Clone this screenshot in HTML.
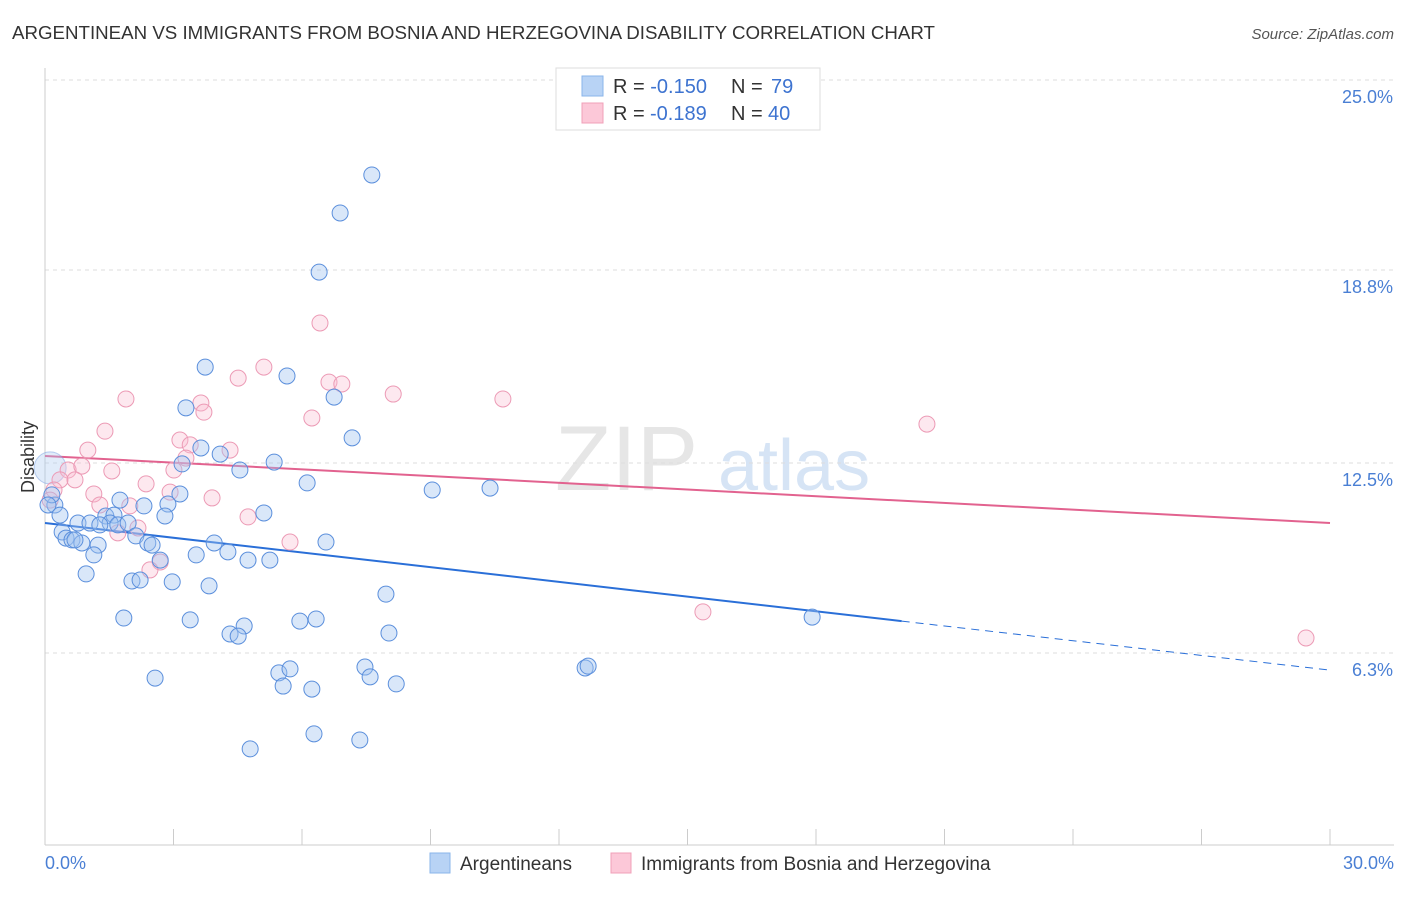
<!DOCTYPE html>
<html><head><meta charset="utf-8"><style>
body{margin:0;background:#fff;font-family:"Liberation Sans",sans-serif}
svg text{font-family:"Liberation Sans",sans-serif}
</style></head><body>
<svg id="chart" width="1406" height="892" viewBox="0 0 1406 892" xmlns="http://www.w3.org/2000/svg">
<text x="12" y="39" font-size="18.5" fill="#333" textLength="923" lengthAdjust="spacingAndGlyphs">ARGENTINEAN VS IMMIGRANTS FROM BOSNIA AND HERZEGOVINA DISABILITY CORRELATION CHART</text>
<text x="1394" y="39" font-size="15" fill="#555" text-anchor="end" font-style="italic">Source: ZipAtlas.com</text>
<text x="555" y="490" font-size="92" fill="#e6e6e6" font-family="Liberation Serif">ZIP</text>
<text x="718" y="490" font-size="72" fill="#d6e4f5">atlas</text>
<g id="grid"></g>
<g id="axes"></g>
<g id="trends"></g>
<g id="points"></g>
<text transform="translate(34,457) rotate(-90)" font-size="18" fill="#333" text-anchor="middle">Disability</text>
<text x="45" y="869" font-size="18" fill="#4a7fd4">0.0%</text>
<text x="1394" y="869" font-size="18" fill="#4a7fd4" text-anchor="end">30.0%</text>
<g>
<rect x="556" y="68" width="264" height="62" fill="#fff" stroke="#ddd"/>
<rect x="582" y="76" width="21" height="20" fill="#b8d3f5" stroke="#8ab4ea"/>
<rect x="582" y="103" width="21" height="20" fill="#fcc8d8" stroke="#f0a0b8"/>
<text x="613" y="93" font-size="20" fill="#333">R = <tspan fill="#3d73d0">-0.150</tspan><tspan x="731">N = </tspan><tspan fill="#3d73d0" x="771">79</tspan></text>
<text x="613" y="120" font-size="20" fill="#333">R = <tspan fill="#3d73d0" x="650">-0.189</tspan><tspan x="731">N = </tspan><tspan fill="#3d73d0" x="768">40</tspan></text>
</g>
<g>
<rect x="430" y="853" width="20" height="20" fill="#b8d3f5" stroke="#8ab4ea"/>
<text x="460" y="870" font-size="19" fill="#333">Argentineans</text>
<rect x="611" y="853" width="20" height="20" fill="#fcc8d8" stroke="#f0a0b8"/>
<text x="641" y="870" font-size="19" fill="#333">Immigrants from Bosnia and Herzegovina</text>
</g>
</svg>
<script>
const yTicks=[25.0,18.8,12.5,6.3];
const yTickLabels=["25.0%","18.8%","12.5%","6.3%"];
const xTicks=[0,3,6,9,12,15,18,21,24,27,30];
const blueX=[7.63,6.89,6.40,3.74,5.65,6.75,3.29,7.17,3.64,4.09,3.20,4.55,5.35,6.12,9.04,10.39,3.15,1.75,2.31,2.87,0.23,0.35,1.42,1.61,2.80,5.11,0.77,1.05,1.52,1.70,1.94,0.40,0.49,0.63,0.86,1.24,2.12,2.40,2.50,3.95,6.56,1.14,3.53,4.27,4.74,5.25,0.96,2.03,2.22,2.97,3.83,7.96,1.84,3.39,4.65,5.95,6.33,4.32,4.51,8.03,17.91,5.46,5.72,7.47,7.59,12.61,12.68,2.57,5.56,6.23,8.20,6.28,7.35,4.79,0.16,0.07,0.70,1.28,2.69];
const blueY=[21.90,20.66,18.73,15.63,15.34,14.65,14.30,13.32,12.99,12.79,12.47,12.27,12.53,11.85,11.62,11.68,11.49,11.29,11.10,11.16,11.13,10.80,10.77,10.80,10.77,10.87,10.54,10.54,10.54,10.48,10.54,10.25,10.05,9.99,9.89,9.82,10.12,9.89,9.82,9.89,9.92,9.50,9.50,9.60,9.33,9.33,8.88,8.65,8.68,8.62,8.49,8.22,7.44,7.38,7.18,7.34,7.41,6.92,6.85,6.95,7.47,5.65,5.78,5.84,5.52,5.81,5.87,5.48,5.22,5.12,5.29,3.66,3.46,3.17,11.46,11.13,9.99,10.48,9.33];
const pinkX=[6.42,5.11,4.51,6.63,6.93,8.13,1.89,10.69,3.64,3.71,6.23,20.59,1.40,3.15,3.39,1.00,4.32,3.29,0.54,0.86,1.56,3.01,0.35,0.70,2.36,1.14,2.92,3.90,0.21,0.12,1.28,1.98,4.74,5.72,1.70,2.17,2.69,2.45,15.36,29.44];
const pinkY=[17.07,15.63,15.27,15.14,15.08,14.75,14.59,14.59,14.46,14.16,13.97,13.77,13.54,13.25,13.09,12.92,12.92,12.66,12.27,12.40,12.24,12.27,11.95,11.95,11.82,11.49,11.55,11.36,11.62,11.29,11.13,11.10,10.74,9.92,10.22,10.38,9.27,9.01,7.64,6.79];
const blueTrend=[10.54,5.74]; const blueSolidEnd=20.0;
const pinkTrend=[12.73,10.54];
const X0=45,X1=1330,Y25=80,PX_PER=30.64;
const xs=v=>X0+(v/30)*(X1-X0);
const ys=v=>Y25+(25-v)*PX_PER;
const NS="http://www.w3.org/2000/svg";
function mk(tag,attrs,parent){const e=document.createElementNS(NS,tag);for(const k in attrs)e.setAttribute(k,attrs[k]);parent.appendChild(e);return e;}
const grid=document.getElementById('grid'),axes=document.getElementById('axes'),tr=document.getElementById('trends'),pts=document.getElementById('points');
yTicks.forEach((t,i)=>{
 const l=mk('line',{x1:X0,x2:1394,y1:ys(t),y2:ys(t),stroke:'#ddd','stroke-dasharray':'4,4'},grid);
 
 
 const tx=mk('text',{x:1393,y:ys(t)+23,'font-size':18,fill:'#4a7fd4','text-anchor':'end'},grid);
 tx.textContent=yTickLabels[i];
 
 
});
const ya=mk('line',{x1:X0,x2:X0,y1:68,y2:845,stroke:'#ccc'},axes);


const xa=mk('line',{x1:X0,x2:1394,y1:845,y2:845,stroke:'#ccc'},axes);


xTicks.forEach(t=>{const l=mk('line',{x1:xs(t),x2:xs(t),y1:829,y2:845,stroke:'#ccc'},axes);
 
 });
const b1=mk('line',{x1:xs(0),y1:ys(blueTrend[0]),x2:xs(blueSolidEnd),y2:ys(blueTrend[0]+(blueTrend[1]-blueTrend[0])*blueSolidEnd/30),stroke:'#2a6fd8','stroke-width':2},tr);


const b2=mk('line',{x1:xs(blueSolidEnd),y1:ys(blueTrend[0]+(blueTrend[1]-blueTrend[0])*blueSolidEnd/30),x2:xs(30),y2:ys(blueTrend[1]),stroke:'#2a6fd8','stroke-width':1,'stroke-dasharray':'8,6'},tr);


const p1=mk('line',{x1:xs(0),y1:ys(pinkTrend[0]),x2:xs(30),y2:ys(pinkTrend[1]),stroke:'#e2628f','stroke-width':2},tr);


const big=mk('circle',{cx:xs(0.12),cy:ys(12.34),r:16,fill:'rgba(170,200,240,0.35)',stroke:'rgba(120,160,225,0.5)'},pts);


pinkX.forEach((x,i)=>{const c=mk('circle',{cx:xs(x),cy:ys(pinkY[i]),r:8,fill:'rgba(250,190,210,0.35)',stroke:'#ec9ab5','stroke-width':1},pts);
 
 });
blueX.forEach((x,i)=>{const c=mk('circle',{cx:xs(x),cy:ys(blueY[i]),r:8,fill:'rgba(160,195,240,0.4)',stroke:'#5b8fdc','stroke-width':1},pts);
 
 });
</script>
</body></html>
